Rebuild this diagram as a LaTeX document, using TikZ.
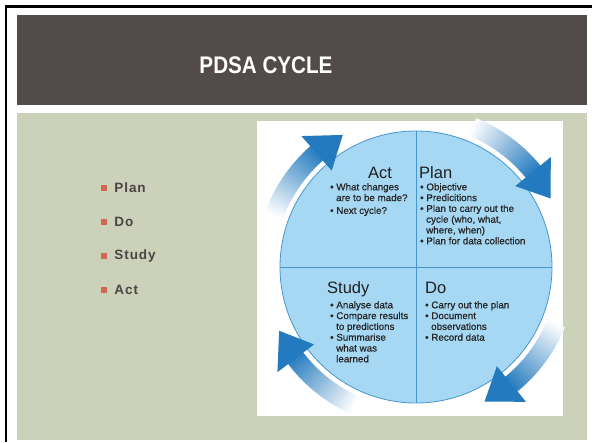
\documentclass[tikz,border=0pt]{standalone}
\usepackage{fontspec}
\setmainfont{Liberation Sans}
\newfontfamily\itemfont[LetterSpace=7]{Liberation Sans}
\newfontfamily\listfont[FakeBold=0.8]{Liberation Sans}
\usetikzlibrary{calc, positioning}

\definecolor{titlegray}{RGB}{83,75,74}
\definecolor{panelgreen}{RGB}{204,209,185}
\definecolor{bulletred}{RGB}{205,104,82}
\definecolor{itemgray}{RGB}{76,68,68}
\definecolor{circblue}{RGB}{166,216,244}
\definecolor{edgeblue}{RGB}{70,150,205}
\definecolor{arrowblue}{RGB}{35,122,190}

\begin{document}
\begin{tikzpicture}[x=1pt, y=1pt,
  node distance = 0pt,
   titletext/.style = {text=white, inner sep=0pt,
                       font=\bfseries\fontsize{24}{28}\selectfont, xscale=.86},
    sqbullet/.style = {fill=bulletred, minimum size=6pt, inner sep=0pt,
                       node contents={}},
    itemtext/.style = {text=itemgray, inner sep=0pt,
                       font=\itemfont\bfseries\fontsize{13.5}{16}\selectfont},
    headtext/.style = {text=black!88, inner sep=0pt, anchor=base west,
                       font=\fontsize{16.5}{18}\selectfont},
    listtext/.style = {text=black!85, inner sep=0pt, anchor=north west,
                       align=left, font=\listfont\fontsize{9.8}{10.8}\selectfont}
                    ]
  \fill[white] (0,0) rectangle (592,442);
  \useasboundingbox (0,0) rectangle (592,442);
  \draw[line width=2.5pt] (6,0) -- (6,435.5) -- (592,435.5);
  \fill[titlegray] (17,337) rectangle (587,427);
  \fill[panelgreen] (17,2) rectangle (587,329);
  \fill[white] (257,26) rectangle (563,321);

  \node (title) at (266,377) [titletext] {PDSA CYCLE};

  % left list
  \node (b1) at (104,254) [sqbullet];
  \node (b2) [sqbullet, below=27.5pt of b1];
  \node (b3) [sqbullet, below=27.5pt of b2];
  \node (b4) [sqbullet, below=27.5pt of b3];
  \node (itplan)  [itemtext, right=7pt of b1] {Plan};
  \node (itdo)    [itemtext, right=7pt of b2] {Do};
  \node (itstudy) [itemtext, right=7pt of b3] {Study};
  \node (itact)   [itemtext, right=7pt of b4] {Act};

  % the cycle
  \node (cyc) at (416,175) [circle, fill=circblue, draw=edgeblue, line width=.8pt,
                            minimum size=272pt, inner sep=0pt] {};
  \draw[edgeblue, line width=.8pt] (cyc.north) -- (cyc.south)
                                   (cyc.west) -- (cyc.east);
  \foreach \s in {160,68,-22,-114}{
    \foreach \i in {0,...,23}{
      \pgfmathsetmacro\pa{\s-\i*1.2}
      \pgfmathsetmacro\pb{\pa-1.6}
      \pgfmathtruncatemacro\pc{2+\i*4}
      \draw[line width=19pt, arrowblue!\pc!white]
        ($(cyc)+(\pa:151)$) arc[start angle=\pa, end angle=\pb, radius=151];
    }
    \fill[arrowblue] ($(cyc)+(\s-28.8:128)$) -- ($(cyc)+(\s-28.8:174)$)
                  -- ($(cyc)+(\s-41:151)$) -- cycle;
  }

  \node (hdact)   at (368,263) [headtext] {Act};
  \node (hdplan)  at (419,263) [headtext] {Plan};
  \node (hdstudy) at (327,148) [headtext] {Study};
  \node (hddo)    at (425,148) [headtext] {Do};

  \node (lsact) at (330,259) [listtext]
    {\textbullet\ What changes\\\hspace*{6pt}are to be made?\\[2pt]
     \textbullet\ Next cycle?};
  \node (lsplan) at (420,259) [listtext]
    {\textbullet\ Objective\\\textbullet\ Predicitions\\
     \textbullet\ Plan to carry out the\\\hspace*{6pt}cycle (who, what,\\
     \hspace*{6pt}where, when)\\\textbullet\ Plan for data collection};
  \node (lsstudy) at (330,141) [listtext]
    {\textbullet\ Analyse data\\\textbullet\ Compare results\\
     \hspace*{6pt}to predictions\\\textbullet\ Summarise\\
     \hspace*{6pt}what was\\\hspace*{6pt}learned};
  \node (lsdo) at (425,141) [listtext]
    {\textbullet\ Carry out the plan\\\textbullet\ Document\\
     \hspace*{6pt}observations\\\textbullet\ Record data};
\end{tikzpicture}
\end{document}
